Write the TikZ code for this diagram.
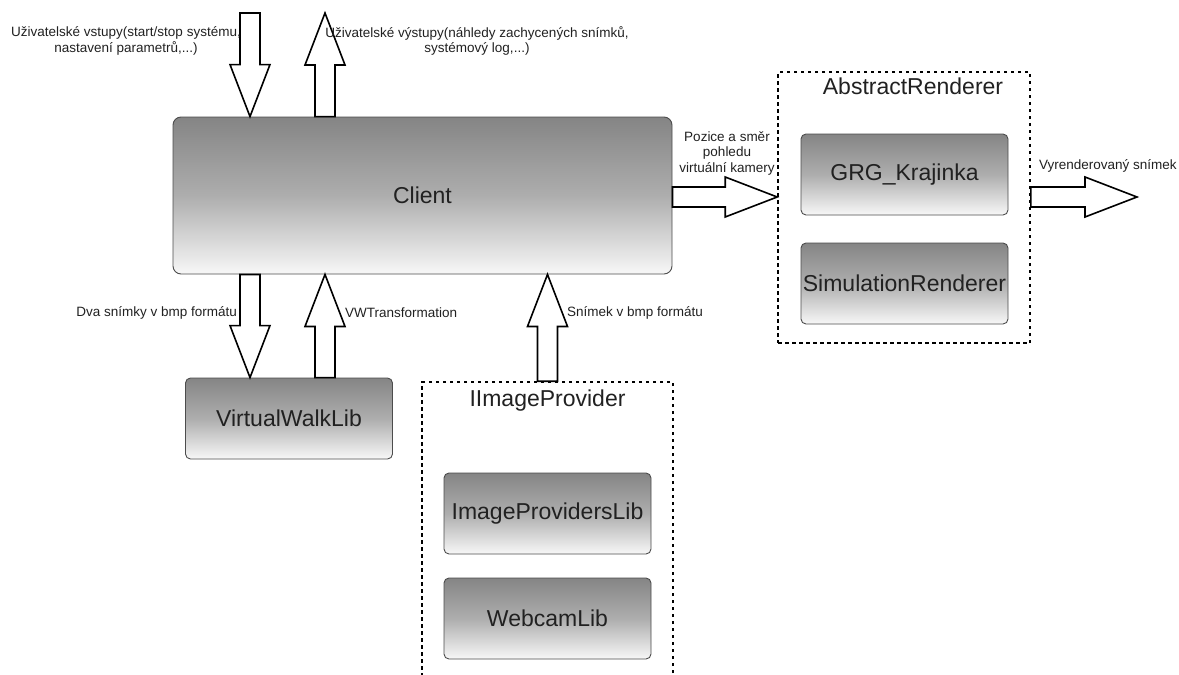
\documentclass[tikz,border=0pt]{standalone}
\usepackage{fontspec}
\setmainfont{Liberation Sans}
\usetikzlibrary{calc}
\definecolor{boxtop}{gray}{0.52}
\definecolor{boxmid}{gray}{0.68}
\definecolor{boxbot}{gray}{0.97}
\definecolor{boxline}{gray}{0.30}
\definecolor{boxtext}{gray}{0.13}
\newcommand{\bigfont}{\fontsize{23}{27}\selectfont}
\newcommand{\smallfont}{\fontsize{13.5}{15.5}\selectfont}
\tikzset{
  comp/.style={draw=boxline, line width=0.9pt, rounded corners=5pt,
    top color=boxtop, bottom color=boxbot, middle color=boxmid,
    inner sep=0pt, minimum width=207pt, minimum height=81pt,
    font=\bigfont, text=boxtext},
  group/.style={draw=black, line width=1.6pt, dash pattern=on 3.5pt off 3.5pt,
    inner sep=0pt},
  grouptitle/.style={font=\bigfont, text=boxtext, inner sep=0pt},
  lbl/.style={font=\smallfont, text=boxtext, inner sep=0pt, align=center},
  blockarr/.style={draw=black, fill=white, line width=1.6pt, line join=miter},
}
\newcommand{\blockarrow}[2]{%
  \coordinate (ba-s) at (#1);
  \coordinate (ba-e) at (#2);
  \coordinate (ba-h) at ($(ba-e)!52pt!(ba-s)$);
  \draw[blockarr] ($(ba-s)!10pt!90:(ba-e)$) -- ($(ba-h)!10pt!90:(ba-e)$)
    -- ($(ba-h)!20pt!90:(ba-e)$) -- (ba-e) -- ($(ba-h)!20pt!-90:(ba-e)$)
    -- ($(ba-h)!10pt!-90:(ba-e)$) -- ($(ba-s)!10pt!-90:(ba-e)$) -- cycle;
}
\begin{document}
\begin{tikzpicture}[x=1pt, y=-1pt]
\useasboundingbox (0,0) rectangle (1179,675);

% main component
\node[comp, minimum width=499pt, minimum height=157pt, rounded corners=8pt] (client) at (422.5,195.5) {Client};
\node[comp] (vwl) at (289,418.5) {VirtualWalkLib};

% IImageProvider group
\node[group, minimum width=251pt, minimum height=320pt] (ip) at (547.5,542) {};
\node[grouptitle] (iptitle) at (547.5,401) {IImageProvider};
\node[comp] (ipl) at (547.5,513.5) {ImageProvidersLib};
\node[comp] (webcam) at (547.5,618.5) {WebcamLib};

% AbstractRenderer group
\node[group, minimum width=252pt, minimum height=271pt] (ar) at (904,207.5) {};
\node[grouptitle] (artitle) at (913,86) {AbstractRenderer};
\node[comp] (grg) at (904.5,174.5) {GRG\_Krajinka};
\node[comp] (sim) at (904.5,283.5) {SimulationRenderer};

% free ends and arrow axes
\coordinate (uin) at (250,13);
\coordinate (uout) at (325,13);
\coordinate (x1) at (250,0);
\coordinate (x2) at (325,0);
\coordinate (y1) at (0,197);
\coordinate (rout) at (1137,197);

% block arrows
\blockarrow{uin}{client.north -| uin}
\blockarrow{client.north -| uout}{uout}
\blockarrow{client.south -| x1}{vwl.north -| x1}
\blockarrow{vwl.north -| x2}{client.south -| x2}
\blockarrow{ip.north}{client.south -| ip.north}
\blockarrow{client.east |- y1}{ar.west |- y1}
\blockarrow{ar.east |- y1}{rout}

% labels
\node[lbl] (lin) at (126,41) {Uživatelské vstupy(start/stop systému,\\nastavení parametrů,...)};
\node[lbl] (lout) at (477,41) {Uživatelské výstupy(náhledy zachycených snímků,\\systémový log,...)};
\node[lbl] (lcam) at (727,153) {Pozice a směr\\pohledu\\virtuální kamery};
\node[lbl, anchor=west] (lrend) at (1039,166) {Vyrenderovaný snímek};
\node[lbl, anchor=east] (ltwo) at (237,313) {Dva snímky v bmp formátu};
\node[lbl, anchor=west] (lvw) at (345,313) {VWTransformation};
\node[lbl, anchor=west] (lsn) at (567,313) {Snímek v bmp formátu};
\end{tikzpicture}
\end{document}
